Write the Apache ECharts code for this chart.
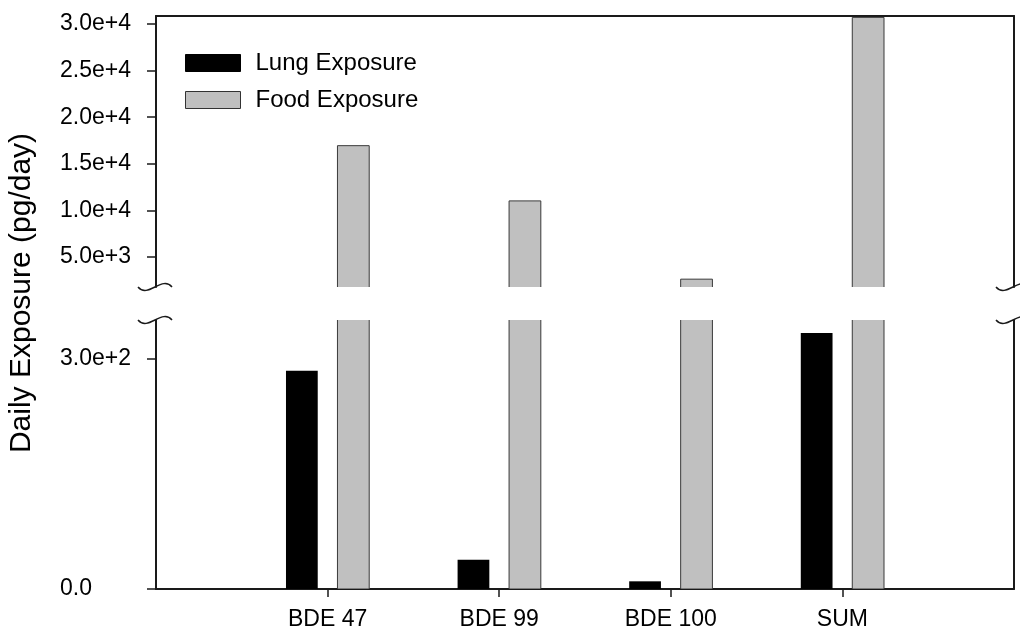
<!DOCTYPE html>
<html>
<head>
<meta charset="utf-8">
<script src="https://cdn.jsdelivr.net/npm/echarts@6/dist/echarts.min.js"></script>
<style>html,body{margin:0;padding:0;background:#fff}#c{width:1020px;height:631px}</style>
</head>
<body>
<div id="c"></div>
<script>
// ---- data ----
var categories = ['BDE 47', 'BDE 99', 'BDE 100', 'SUM'];
var lungExposure = [284, 38, 10, 333];
var foodExposure = [16950, 11030, 2640, 30700];
var upperTicks = [5000, 10000, 15000, 20000, 25000, 30000];
var lowerTicks = [0, 300];
var upperRange = [1800, 30850];
var lowerRange = [0, 350];

// ---- layout ----
var L = 156, R = 6;
var upTop = 16, upBottom = 287, lowTop = 320, lowBottom = 589;
var FONT = 'Liberation Sans, Arial, sans-serif';

var xData = [''].concat(categories).concat(['']);
function pairs(arr) { return arr.map(function (v, i) { return [i + 1, v]; }); }

var widthRatio = 0.185, offRatio = 0.150;
function barRender(side, fill, stroke) {
  return function (params, api) {
    var idx = api.value(0), val = api.value(1);
    var band = api.size([1, 0])[0];
    var p1 = api.coord([idx, val]);
    var p0 = api.coord([idx, 0]);
    var w = band * widthRatio;
    var cx = p0[0] + side * band * offRatio;
    return {
      type: 'rect',
      shape: { x: cx - w / 2, y: p1[1], width: w, height: p0[1] - p1[1] },
      style: { fill: fill, stroke: stroke, lineWidth: stroke ? 1 : 0 }
    };
  };
}

function expFmt(v) { return v === 0 ? '0.0' : Number(v).toExponential(1); }

var axisLineStyle = { color: '#1a1a1a', width: 2 };

function squiggle(x, y) {
  return {
    type: 'bezierCurve',
    shape: { x1: x - 18, y1: y, cpx1: x - 8, cpy1: y + 12, cpx2: x + 6, cpy2: y - 12, x2: x + 16, y2: y },
    style: { stroke: '#1a1a1a', lineWidth: 1.5, fill: null },
    z: 100
  };
}

var chart = echarts.init(document.getElementById('c'), null, { renderer: 'canvas' });
var W = 1020;
chart.setOption({
  animation: false,
  backgroundColor: '#fff',
  grid: [
    { left: L, right: R, top: upTop, height: upBottom - upTop, outerBoundsMode: 'none' },
    { left: L, right: R, top: lowTop, height: lowBottom - lowTop, outerBoundsMode: 'none' }
  ],
  legend: {
    orient: 'vertical', left: 185, top: 51, padding: 0,
    itemWidth: 55, itemHeight: 17, itemGap: 13,
    textStyle: { fontSize: 24, fontFamily: FONT, color: '#000', padding: [0, 0, 0, 10] },
    data: [
      { name: 'Lung Exposure', icon: 'rect', itemStyle: { color: '#000', borderColor: '#000', borderWidth: 1 } },
      { name: 'Food Exposure', icon: 'rect', itemStyle: { color: '#c0c0c0', borderColor: '#333', borderWidth: 1 } }
    ],
    selectedMode: false
  },
  xAxis: [
    { type: 'category', gridIndex: 0, position: 'top', data: xData, boundaryGap: false,
      axisLine: { show: true, onZero: false, lineStyle: axisLineStyle },
      axisTick: { show: false }, axisLabel: { show: false }, splitLine: { show: false } },
    { type: 'category', gridIndex: 1, position: 'bottom', data: xData, boundaryGap: false,
      axisLine: { show: true, onZero: false, lineStyle: axisLineStyle },
      axisTick: { show: true, length: 8, inside: false, lineStyle: { color: '#1a1a1a', width: 1.5 },
        interval: function (i, v) { return v !== ''; } },
      axisLabel: { show: true, interval: 0, fontSize: 23, fontFamily: FONT, color: '#000', margin: 19 },
      splitLine: { show: false } }
  ],
  yAxis: [
    { type: 'value', gridIndex: 0, position: 'left', min: upperRange[0], max: upperRange[1],
      axisLine: { show: true, lineStyle: axisLineStyle },
      axisTick: { show: true, length: 9, customValues: upperTicks, lineStyle: { color: '#1a1a1a', width: 1.5 } },
      axisLabel: { show: true, customValues: upperTicks, formatter: expFmt, align: 'left', margin: 96,
        fontSize: 23, fontFamily: FONT, color: '#000' },
      splitLine: { show: false } },
    { type: 'value', gridIndex: 0, position: 'right', min: upperRange[0], max: upperRange[1],
      axisLine: { show: true, lineStyle: axisLineStyle },
      axisTick: { show: false }, axisLabel: { show: false }, splitLine: { show: false } },
    { type: 'value', gridIndex: 1, position: 'left', min: lowerRange[0], max: lowerRange[1],
      axisLine: { show: true, lineStyle: axisLineStyle },
      axisTick: { show: true, length: 9, customValues: lowerTicks, lineStyle: { color: '#1a1a1a', width: 1.5 } },
      axisLabel: { show: true, customValues: lowerTicks, formatter: expFmt, align: 'left', margin: 96,
        fontSize: 23, fontFamily: FONT, color: '#000' },
      splitLine: { show: false } },
    { type: 'value', gridIndex: 1, position: 'right', min: lowerRange[0], max: lowerRange[1],
      axisLine: { show: true, lineStyle: axisLineStyle },
      axisTick: { show: false }, axisLabel: { show: false }, splitLine: { show: false } }
  ],
  series: [
    { name: 'Lung Exposure', type: 'custom', xAxisIndex: 1, yAxisIndex: 2, clip: true,
      itemStyle: { color: '#000' },
      renderItem: barRender(-1, '#000', null), data: pairs(lungExposure), encode: { x: 0, y: 1 } },
    { name: 'Food Exposure', type: 'custom', xAxisIndex: 1, yAxisIndex: 2, clip: true,
      itemStyle: { color: '#c0c0c0' },
      renderItem: barRender(1, '#c0c0c0', '#3a3a3a'), data: pairs(foodExposure), encode: { x: 0, y: 1 } },
    { name: 'Food Exposure', type: 'custom', xAxisIndex: 0, yAxisIndex: 0, clip: true,
      itemStyle: { color: '#c0c0c0' },
      renderItem: barRender(1, '#c0c0c0', '#3a3a3a'), data: pairs(foodExposure), encode: { x: 0, y: 1 } }
  ],
  graphic: [
    { type: 'text', x: 22, y: 293, rotation: Math.PI / 2,
      style: { text: 'Daily Exposure (pg/day)', fontSize: 30, fontFamily: FONT, fill: '#000',
        align: 'center', verticalAlign: 'middle' } },
    squiggle(L, upBottom), squiggle(L, lowTop),
    squiggle(W - R, upBottom), squiggle(W - R, lowTop)
  ]
});
</script>
</body>
</html>
